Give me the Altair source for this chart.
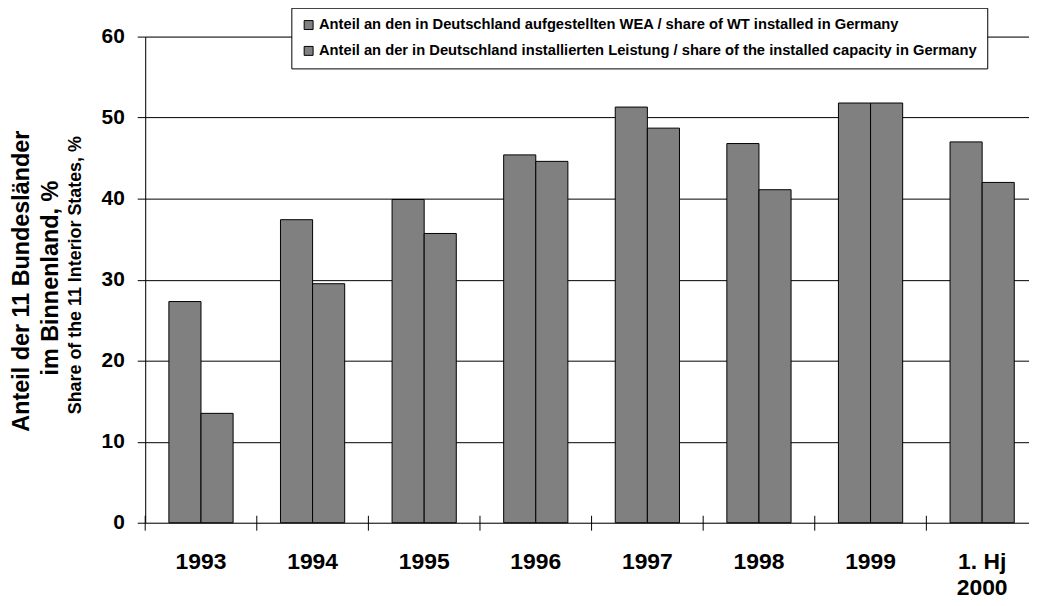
import altair as alt
import pandas as pd

years = ["1993", "1994", "1995", "1996", "1997", "1998", "1999", "1. Hj 2000"]
series_names = [
    "Anteil an den in Deutschland aufgestellten WEA / share of WT installed in Germany",
    "Anteil an der in Deutschland installierten Leistung / share of the installed capacity in Germany",
]
share_wt = [27.3, 37.4, 39.9, 45.4, 51.3, 46.8, 51.8, 47.0]
share_capacity = [13.5, 29.5, 35.7, 44.6, 48.7, 41.1, 51.8, 42.0]
y_ticks = [0, 10, 20, 30, 40, 50, 60]
title_lines = ["Anteil der 11 Bundesländer", "im Binnenland, %", "Share of the 11 Interior States, %"]

rows = []
for i, yr in enumerate(years):
    rows.append({"year": yr, "series": series_names[0], "value": share_wt[i]})
    rows.append({"year": yr, "series": series_names[1], "value": share_capacity[i]})
df = pd.DataFrame(rows)

FONT = "Liberation Sans"
W, H = 889, 489

x_scale = alt.Scale(domain=years, range=[0, 898], paddingInner=0, paddingOuter=0)

bars = alt.Chart(df).mark_bar(stroke="black", strokeWidth=1).encode(
    x=alt.X(
        "year:N",
        scale=x_scale,
        sort=years,
        axis=alt.Axis(
            title=None,
            labelAngle=0,
            ticks=False,
            tickSize=0,
            domain=False,
            grid=False,
            labelFont=FONT,
            labelFontSize=23,
            labelFontWeight="bold",
            labelColor="black",
            labelPadding=28,
            labelLineHeight=26,
            labelExpr="indexof(datum.label, 'Hj') >= 0 ? ['1. Hj', '2000'] : datum.label",
        ),
    ),
    xOffset=alt.XOffset(
        "series:N",
        sort=series_names,
        scale=alt.Scale(domain=series_names, paddingInner=0, paddingOuter=0.738),
    ),
    y=alt.Y(
        "value:Q",
        scale=alt.Scale(domain=[0, 60], nice=False),
        axis=alt.Axis(
            title=None,
            values=y_ticks,
            grid=True,
            gridColor="black",
            gridWidth=1,
            gridOpacity=1,
            domainColor="black",
            domainWidth=1,
            tickColor="black",
            tickSize=8,
            labelFont=FONT,
            labelFontSize=21,
            labelFontWeight="bold",
            labelColor="black",
            labelPadding=13,
        ),
    ),
    color=alt.Color(
        "series:N",
        sort=series_names,
        scale=alt.Scale(domain=series_names, range=["#808080", "#808080"]),
        legend=alt.Legend(
            title=None,
            orient="none",
            legendX=147,
            legendY=-29,
            direction="vertical",
            strokeColor="black",
            fillColor="white",
            padding=10,
            rowPadding=10,
            cornerRadius=0,
            symbolType="square",
            symbolSize=81,
            symbolStrokeColor="black",
            symbolStrokeWidth=1,
            symbolOpacity=1,
            labelFont=FONT,
            labelFontSize=14.8,
            labelFontWeight="bold",
            labelColor="black",
            labelLimit=1000,
            labelOffset=3,
        ),
    ),
)

ticks = alt.Chart(pd.DataFrame({"year": years})).mark_rule(color="black", strokeWidth=1).encode(
    x=alt.X("year:N", sort=years, bandPosition=0),
    y=alt.value(H - 7),
    y2=alt.value(H + 8),
)

title_df = pd.DataFrame({
    "t": title_lines,
    "px": [-124, -95, -70],
    "py": [246, 243, 240],
    "sz": [23.5, 23.5, 18],
})

titles = []
for i in range(3):
    titles.append(
        alt.Chart(title_df.iloc[[i]]).mark_text(
            angle=270,
            align="center",
            baseline="middle",
            font=FONT,
            fontSize=float(title_df["sz"][i]),
            fontWeight="bold",
            color="black",
        ).encode(
            text="t:N",
            x=alt.value(float(title_df["px"][i])),
            y=alt.value(float(title_df["py"][i])),
        )
    )

chart = alt.layer(bars, ticks, *titles).properties(
    width=W,
    height=H,
    autosize=alt.AutoSizeParams(type="none"),
    padding={"left": 138, "top": 27, "right": 0, "bottom": 80},
).configure_view(stroke=None).configure(background="white")

chart.save("out.html", embed_options={"renderer": "svg", "actions": False})
